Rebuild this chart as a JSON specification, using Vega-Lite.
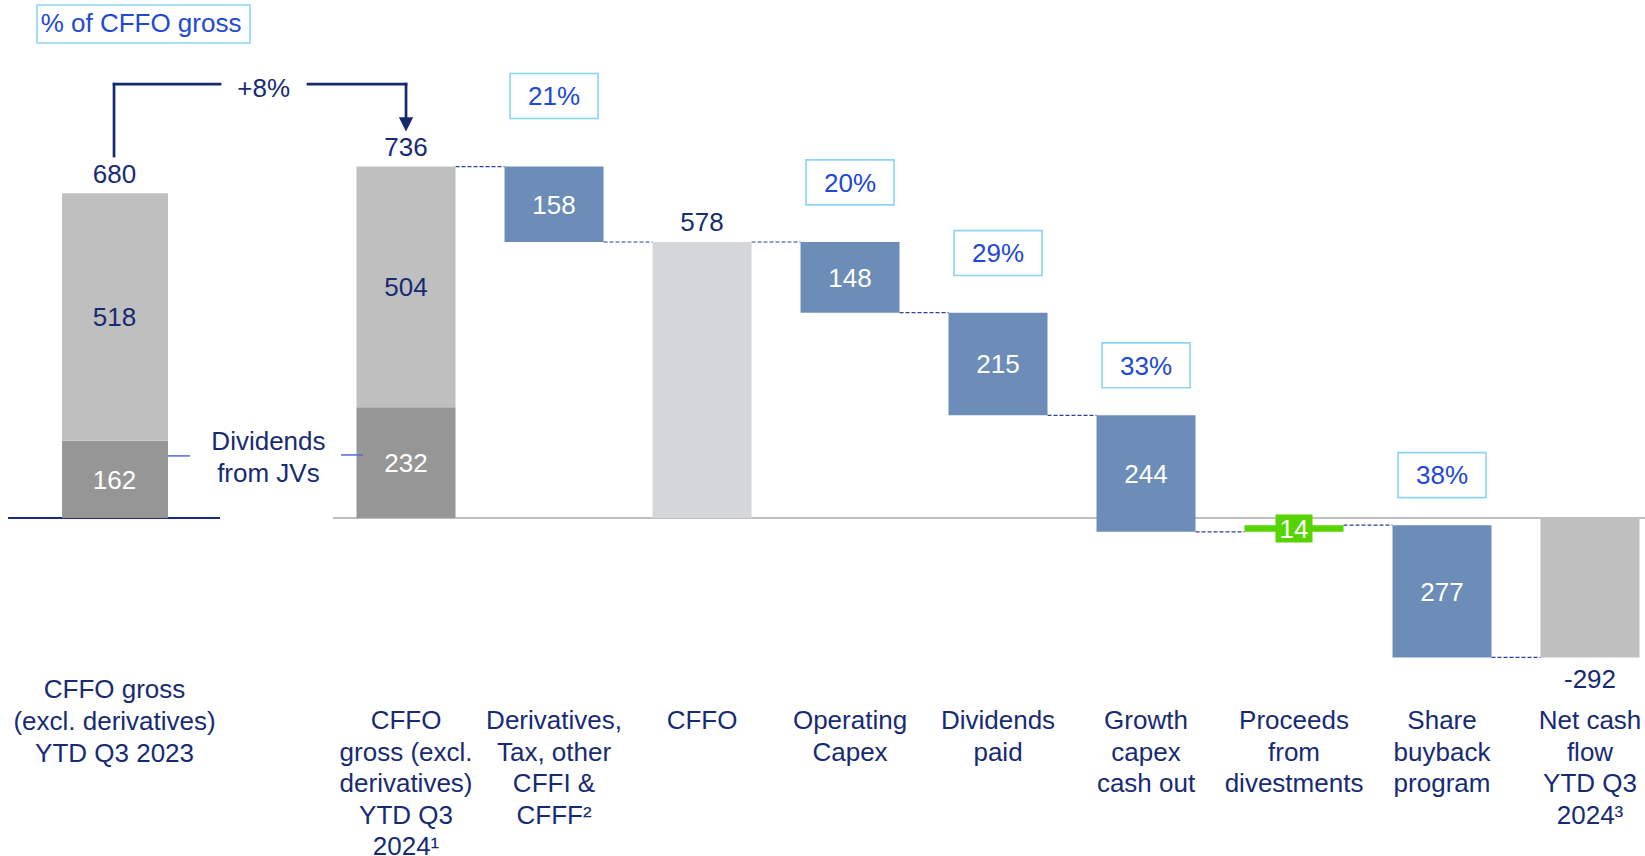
{
  "$schema": "https://vega.github.io/schema/vega-lite/v6.json",
  "width": 1645,
  "height": 856,
  "padding": 0,
  "autosize": {"type": "none"},
  "background": "white",
  "config": {"view": {"stroke": null}},
  "datasets": {
    "bars": [
      {"cat": "A", "start": 0, "end": 162, "lab": "162", "kind": "dark"},
      {"cat": "A", "start": 162, "end": 680, "lab": "518", "kind": "light"},
      {"cat": "B", "start": 0, "end": 232, "lab": "232", "kind": "dark"},
      {"cat": "B", "start": 232, "end": 736, "lab": "504", "kind": "light"},
      {"cat": "C", "start": 736, "end": 578, "lab": "158", "kind": "blue"},
      {"cat": "CFFO", "start": 0, "end": 578, "lab": "", "kind": "pale"},
      {"cat": "Opex", "start": 578, "end": 430, "lab": "148", "kind": "blue"},
      {"cat": "Div", "start": 430, "end": 215, "lab": "215", "kind": "blue"},
      {"cat": "Growth", "start": 215, "end": -29, "lab": "244", "kind": "blue"},
      {"cat": "Proceeds", "start": -29, "end": -15, "lab": "14", "kind": "green"},
      {"cat": "Share", "start": -15, "end": -292, "lab": "277", "kind": "blue"},
      {"cat": "Net", "start": 0, "end": -292, "lab": "", "kind": "light"}
    ],
    "totals": [
      {"cat": "A", "total": 680},
      {"cat": "B", "total": 736},
      {"cat": "CFFO", "total": 578},
      {"cat": "Net", "total": -292}
    ],
    "pct": [
      {"cat": "C", "top": 736, "pct": "21%"},
      {"cat": "Opex", "top": 578, "pct": "20%"},
      {"cat": "Div", "top": 430, "pct": "29%"},
      {"cat": "Growth", "top": 215, "pct": "33%"},
      {"cat": "Share", "top": -15, "pct": "38%"}
    ],
    "links": [
      {"from": "B", "to": "C", "level": 736},
      {"from": "C", "to": "CFFO", "level": 578},
      {"from": "CFFO", "to": "Opex", "level": 578},
      {"from": "Opex", "to": "Div", "level": 430},
      {"from": "Div", "to": "Growth", "level": 215},
      {"from": "Growth", "to": "Proceeds", "level": -29},
      {"from": "Proceeds", "to": "Share", "level": -15},
      {"from": "Share", "to": "Net", "level": -292}
    ],
    "cats": [
      {"cat": "A", "name": "CFFO gross\n(excl. derivatives)\nYTD Q3 2023"},
      {"cat": "B", "name": "CFFO\ngross (excl.\nderivatives)\nYTD Q3\n2024¹"},
      {"cat": "C", "name": "Derivatives,\nTax, other\nCFFI &\nCFFF²"},
      {"cat": "CFFO", "name": "CFFO"},
      {"cat": "Opex", "name": "Operating\nCapex"},
      {"cat": "Div", "name": "Dividends\npaid"},
      {"cat": "Growth", "name": "Growth\ncapex\ncash out"},
      {"cat": "Proceeds", "name": "Proceeds\nfrom\ndivestments"},
      {"cat": "Share", "name": "Share\nbuyback\nprogram"},
      {"cat": "Net", "name": "Net cash\nflow\nYTD Q3\n2024³"}
    ],
    "one": [{"note": "annotation"}]
  },
  "layer": [
    {
      "data": {"name": "one"},
      "mark": {"type": "rule", "color": "#bfbfbf", "strokeWidth": 2, "xOffset": -73, "x2Offset": 55},
      "encoding": {
        "x": {"datum": "B", "type": "nominal", "axis": null, "scale": {"type": "band", "domain": ["A", "JV", "B", "C", "CFFO", "Opex", "Div", "Growth", "Proceeds", "Share", "Net"], "paddingInner": 0.331, "paddingOuter": 0.223, "align": 0.917}},
        "x2": {"datum": "Net"},
        "y": {"datum": 0, "type": "quantitative", "axis": null, "scale": {"domain": [-707.9, 1084.8], "nice": false, "zero": false}}
      }
    },
    {
      "data": {"name": "one"},
      "mark": {"type": "rule", "color": "#1a2e78", "strokeWidth": 2, "xOffset": -102, "x2Offset": 110},
      "encoding": {
        "x": {"datum": "A", "type": "nominal"},
        "x2": {"datum": "A"},
        "y": {"datum": 0, "type": "quantitative"}
      }
    },
    {
      "data": {"name": "links"},
      "mark": {"type": "rule", "color": "#2e4290", "strokeWidth": 1.2, "strokeDash": [4, 2], "xOffset": 49.5, "x2Offset": -49.5},
      "encoding": {
        "x": {"field": "from", "type": "nominal"},
        "x2": {"field": "to"},
        "y": {"field": "level", "type": "quantitative"}
      }
    },
    {
      "data": {"name": "bars"},
      "transform": [{"filter": "datum.cat == 'A'"}],
      "mark": {"type": "bar", "width": {"band": 1.07}, "xOffset": 5},
      "encoding": {
        "x": {"field": "cat", "type": "nominal"},
        "y": {"field": "start", "type": "quantitative"},
        "y2": {"field": "end"},
        "color": {"field": "kind", "type": "nominal", "legend": null, "scale": {"domain": ["dark", "light", "pale", "blue", "green"], "range": ["#969696", "#bfbfbf", "#d5d6d8", "#6d8db9", "#55d400"]}}
      }
    },
    {
      "data": {"name": "bars"},
      "transform": [{"filter": "datum.cat != 'A'"}],
      "mark": {"type": "bar"},
      "encoding": {
        "x": {"field": "cat", "type": "nominal"},
        "y": {"field": "start", "type": "quantitative"},
        "y2": {"field": "end"},
        "color": {"field": "kind", "type": "nominal", "legend": null}
      }
    },
    {
      "data": {"name": "bars"},
      "transform": [
        {"filter": "datum.lab != ''"},
        {"fold": ["start", "end"], "as": ["edge", "v"]},
        {"aggregate": [{"op": "mean", "field": "v", "as": "mid"}], "groupby": ["cat", "lab", "kind"]}
      ],
      "layer": [
        {
          "transform": [{"filter": "datum.kind == 'green'"}],
          "mark": {"type": "point", "shape": "M-1,-0.757 H1 V0.757 H-1 Z", "filled": true, "opacity": 1, "color": "#55d400", "size": 1369, "strokeWidth": 0},
          "encoding": {
            "x": {"field": "cat", "type": "nominal"},
            "y": {"field": "mid", "type": "quantitative"}
          }
        },
        {
          "transform": [{"filter": "datum.cat != 'A'"}],
          "mark": {"type": "text", "font": "Liberation Sans", "fontSize": 26, "baseline": "alphabetic", "dy": 9.3},
          "encoding": {
            "x": {"field": "cat", "type": "nominal"},
            "y": {"field": "mid", "type": "quantitative"},
            "text": {"field": "lab"},
            "color": {"condition": {"test": "datum.kind == 'light'", "value": "#172b73"}, "value": "white"}
          }
        },
        {
          "transform": [{"filter": "datum.cat == 'A'"}],
          "mark": {"type": "text", "font": "Liberation Sans", "fontSize": 26, "baseline": "alphabetic", "dy": 9.3, "dx": 4.5},
          "encoding": {
            "x": {"field": "cat", "type": "nominal"},
            "y": {"field": "mid", "type": "quantitative"},
            "text": {"field": "lab"},
            "color": {"condition": {"test": "datum.kind == 'light'", "value": "#172b73"}, "value": "white"}
          }
        }
      ]
    },
    {
      "data": {"name": "totals"},
      "transform": [{"filter": "datum.total > 0 && datum.cat != 'A'"}],
      "mark": {"type": "text", "font": "Liberation Sans", "fontSize": 26, "baseline": "alphabetic", "dy": -10.7, "color": "#172b73"},
      "encoding": {
        "x": {"field": "cat", "type": "nominal"},
        "y": {"field": "total", "type": "quantitative"},
        "text": {"field": "total"}
      }
    },
    {
      "data": {"name": "totals"},
      "transform": [{"filter": "datum.cat == 'A'"}],
      "mark": {"type": "text", "font": "Liberation Sans", "fontSize": 26, "baseline": "alphabetic", "dy": -10.7, "dx": 4.5, "color": "#172b73"},
      "encoding": {
        "x": {"field": "cat", "type": "nominal"},
        "y": {"field": "total", "type": "quantitative"},
        "text": {"field": "total"}
      }
    },
    {
      "data": {"name": "totals"},
      "transform": [{"filter": "datum.total < 0"}],
      "mark": {"type": "text", "font": "Liberation Sans", "fontSize": 26, "baseline": "alphabetic", "dy": 30.3, "color": "#172b73"},
      "encoding": {
        "x": {"field": "cat", "type": "nominal"},
        "y": {"field": "total", "type": "quantitative"},
        "text": {"field": "total"}
      }
    },
    {
      "data": {"name": "pct"},
      "transform": [{"filter": "datum.cat == 'C'"}],
      "layer": [
        {
          "mark": {"type": "point", "shape": "M-1,-0.511 H1 V0.511 H-1 Z", "size": 7744, "filled": true, "fill": "white", "stroke": "#8dd3f7", "strokeWidth": 1.6, "opacity": 1, "yOffset": -70.5},
          "encoding": {"x": {"field": "cat", "type": "nominal"}, "y": {"field": "top", "type": "quantitative"}}
        },
        {
          "mark": {"type": "text", "font": "Liberation Sans", "fontSize": 26, "baseline": "alphabetic", "dy": -61.2, "color": "#2248d6"},
          "encoding": {"x": {"field": "cat", "type": "nominal"}, "y": {"field": "top", "type": "quantitative"}, "text": {"field": "pct"}}
        }
      ]
    },
    {
      "data": {"name": "pct"},
      "transform": [{"filter": "datum.cat == 'Opex' || datum.cat == 'Div'"}],
      "layer": [
        {
          "mark": {"type": "point", "shape": "M-1,-0.511 H1 V0.511 H-1 Z", "size": 7744, "filled": true, "fill": "white", "stroke": "#8dd3f7", "strokeWidth": 1.6, "opacity": 1, "yOffset": -59.6},
          "encoding": {"x": {"field": "cat", "type": "nominal"}, "y": {"field": "top", "type": "quantitative"}}
        },
        {
          "mark": {"type": "text", "font": "Liberation Sans", "fontSize": 26, "baseline": "alphabetic", "dy": -50.3, "color": "#2248d6"},
          "encoding": {"x": {"field": "cat", "type": "nominal"}, "y": {"field": "top", "type": "quantitative"}, "text": {"field": "pct"}}
        }
      ]
    },
    {
      "data": {"name": "pct"},
      "transform": [{"filter": "datum.cat == 'Growth' || datum.cat == 'Share'"}],
      "layer": [
        {
          "mark": {"type": "point", "shape": "M-1,-0.511 H1 V0.511 H-1 Z", "size": 7744, "filled": true, "fill": "white", "stroke": "#8dd3f7", "strokeWidth": 1.6, "opacity": 1, "yOffset": -50},
          "encoding": {"x": {"field": "cat", "type": "nominal"}, "y": {"field": "top", "type": "quantitative"}}
        },
        {
          "mark": {"type": "text", "font": "Liberation Sans", "fontSize": 26, "baseline": "alphabetic", "dy": -40.7, "color": "#2248d6"},
          "encoding": {"x": {"field": "cat", "type": "nominal"}, "y": {"field": "top", "type": "quantitative"}, "text": {"field": "pct"}}
        }
      ]
    },
    {
      "data": {"name": "cats"},
      "transform": [{"filter": "datum.cat == 'A'"}],
      "mark": {"type": "text", "font": "Liberation Sans", "fontSize": 26, "baseline": "alphabetic", "lineBreak": "\n", "lineHeight": 31.7, "color": "#172b73", "dx": 4.5},
      "encoding": {
        "x": {"field": "cat", "type": "nominal"},
        "y": {"datum": -377.6, "type": "quantitative"},
        "text": {"field": "name"}
      }
    },
    {
      "data": {"name": "cats"},
      "transform": [{"filter": "datum.cat != 'A'"}],
      "mark": {"type": "text", "font": "Liberation Sans", "fontSize": 26, "baseline": "alphabetic", "lineBreak": "\n", "lineHeight": 31.5, "color": "#172b73"},
      "encoding": {
        "x": {"field": "cat", "type": "nominal"},
        "y": {"datum": -442.5, "type": "quantitative"},
        "text": {"field": "name"}
      }
    },
    {
      "data": {"name": "one"},
      "mark": {"type": "text", "font": "Liberation Sans", "fontSize": 26, "baseline": "alphabetic", "lineBreak": "\n", "lineHeight": 31.7, "color": "#172b73", "dx": 10.4, "text": "Dividends\nfrom JVs"},
      "encoding": {
        "x": {"datum": "JV", "type": "nominal"},
        "y": {"datum": 142.4, "type": "quantitative"}
      }
    },
    {
      "data": {"name": "one"},
      "mark": {"type": "rule", "color": "#5068dc", "strokeWidth": 1.5, "xOffset": 58, "x2Offset": 80},
      "encoding": {
        "x": {"datum": "A", "type": "nominal"},
        "x2": {"datum": "A"},
        "y": {"datum": 130, "type": "quantitative"}
      }
    },
    {
      "data": {"name": "one"},
      "mark": {"type": "rule", "color": "#5068dc", "strokeWidth": 1.5, "xOffset": -65, "x2Offset": -43},
      "encoding": {
        "x": {"datum": "B", "type": "nominal"},
        "x2": {"datum": "B"},
        "y": {"datum": 132, "type": "quantitative"}
      }
    },
    {
      "data": {"name": "one"},
      "mark": {"type": "rule", "color": "#15296f", "strokeWidth": 2.7, "xOffset": 4, "strokeCap": "square"},
      "encoding": {
        "x": {"datum": "A", "type": "nominal"},
        "y": {"datum": 758, "type": "quantitative"},
        "y2": {"datum": 908.7}
      }
    },
    {
      "data": {"name": "one"},
      "mark": {"type": "rule", "color": "#15296f", "strokeWidth": 2.7, "xOffset": 4, "x2Offset": -38, "strokeCap": "square"},
      "encoding": {
        "x": {"datum": "A", "type": "nominal"},
        "x2": {"datum": "JV"},
        "y": {"datum": 908.7, "type": "quantitative"}
      }
    },
    {
      "data": {"name": "one"},
      "mark": {"type": "rule", "color": "#15296f", "strokeWidth": 2.7, "xOffset": 50, "strokeCap": "square"},
      "encoding": {
        "x": {"datum": "JV", "type": "nominal"},
        "x2": {"datum": "B"},
        "y": {"datum": 908.7, "type": "quantitative"}
      }
    },
    {
      "data": {"name": "one"},
      "mark": {"type": "rule", "color": "#15296f", "strokeWidth": 2.7, "strokeCap": "square"},
      "encoding": {
        "x": {"datum": "B", "type": "nominal"},
        "y": {"datum": 908.7, "type": "quantitative"},
        "y2": {"datum": 836}
      }
    },
    {
      "data": {"name": "one"},
      "mark": {"type": "point", "shape": "M-1,-1 H1 L0,1 Z", "size": 205, "filled": true, "opacity": 1, "color": "#15296f", "strokeWidth": 0},
      "encoding": {
        "x": {"datum": "B", "type": "nominal"},
        "y": {"datum": 824.5, "type": "quantitative"}
      }
    },
    {
      "data": {"name": "one"},
      "mark": {"type": "text", "font": "Liberation Sans", "fontSize": 26, "baseline": "alphabetic", "color": "#172b73", "dx": 5.7, "text": "+8%"},
      "encoding": {
        "x": {"datum": "JV", "type": "nominal"},
        "y": {"datum": 881, "type": "quantitative"}
      }
    },
    {
      "data": {"name": "one"},
      "mark": {"type": "point", "shape": "M-1,-0.178 H1 V0.178 H-1 Z", "size": 45369, "filled": true, "fill": "white", "stroke": "#8dd3f7", "strokeWidth": 1.6, "opacity": 1, "xOffset": 33.5},
      "encoding": {
        "x": {"datum": "A", "type": "nominal"},
        "y": {"datum": 1034.6, "type": "quantitative"}
      }
    },
    {
      "data": {"name": "one"},
      "mark": {"type": "text", "font": "Liberation Sans", "fontSize": 26, "baseline": "alphabetic", "color": "#2248d6", "dx": 31, "text": "% of CFFO gross"},
      "encoding": {
        "x": {"datum": "A", "type": "nominal"},
        "y": {"datum": 1018.4, "type": "quantitative"}
      }
    }
  ]
}
